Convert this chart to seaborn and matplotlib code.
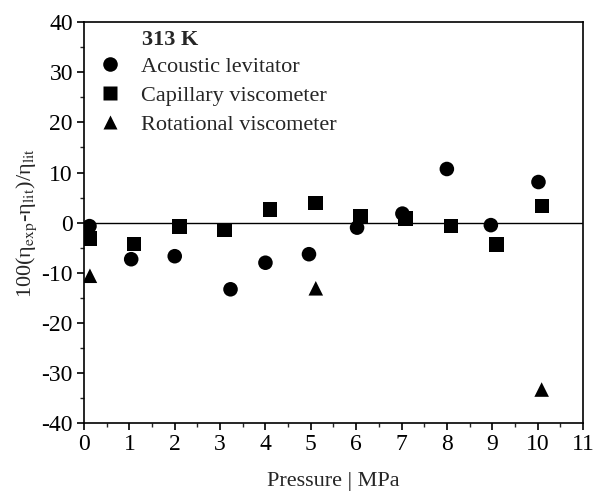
import matplotlib
matplotlib.use("Agg")
import matplotlib.pyplot as plt
from matplotlib.ticker import MultipleLocator
import pandas as pd
import seaborn as sns

acoustic_p = [0.12, 1.04, 2.0, 3.23, 4.0, 4.96, 6.02, 7.02, 8.0, 8.97, 10.02]
acoustic_dev = [-0.7, -7.3, -6.7, -13.3, -8.0, -6.3, -1.0, 1.8, 10.7, -0.5, 8.1]
capillary_p = [0.12, 1.10, 2.1, 3.1, 4.10, 5.10, 6.09, 7.09, 8.09, 9.09, 10.1]
capillary_dev = [-3.2, -4.3, -0.8, -1.5, 2.6, 3.95, 1.3, 0.8, -0.7, -4.4, 3.3]
rotational_p = [0.13, 5.11, 10.09]
rotational_dev = [-10.6, -13.1, -33.3]

labels = ["Acoustic levitator", "Capillary viscometer", "Rotational viscometer"]

df = pd.concat([
    pd.DataFrame({"p": acoustic_p, "dev": acoustic_dev, "method": labels[0]}),
    pd.DataFrame({"p": capillary_p, "dev": capillary_dev, "method": labels[1]}),
    pd.DataFrame({"p": rotational_p, "dev": rotational_dev, "method": labels[2]}),
])

sns.set_style("ticks")
plt.rcParams["font.family"] = ["Liberation Serif", "DejaVu Serif"]
plt.rcParams["mathtext.fontset"] = "stix"
plt.rcParams["axes.unicode_minus"] = False

fs = 16
fig = plt.figure(figsize=(5.93, 4.92), dpi=100)
ax = fig.add_axes([0.1417, 0.140, 0.8413, 0.815])

ax.axhline(0, color="black", lw=1.0, zorder=1)
sns.scatterplot(data=df, x="p", y="dev", style="method", hue="method",
                markers={labels[0]: "o", labels[1]: "s", labels[2]: "^"},
                palette={l: "black" for l in labels},
                s=110, edgecolor="none", ax=ax, zorder=3)

ax.set_xlim(0, 11)
ax.set_ylim(-40, 40)
ax.xaxis.set_major_locator(MultipleLocator(1))
ax.xaxis.set_minor_locator(MultipleLocator(0.5))
ax.yaxis.set_major_locator(MultipleLocator(10))
ax.yaxis.set_minor_locator(MultipleLocator(5))
ax.tick_params(which="major", direction="out", length=5, width=1.2, labelsize=fs + 1,
               colors="black", pad=3)
ax.tick_params(which="minor", direction="out", length=3, width=1.0)
ax.tick_params(top=False, right=False, which="both")
for sp in ax.spines.values():
    sp.set_linewidth(1.2)
    sp.set_color("black")

ax.set_xlabel("Pressure | MPa", fontsize=fs, labelpad=12)
ax.set_ylabel("100(η$_{\\rm exp}$-η$_{\\rm lit}$)/η$_{\\rm lit}$", fontsize=fs, labelpad=2)

ax.text(0.116, 0.98, "313 K", transform=ax.transAxes, fontsize=fs,
        fontweight="bold", va="top", ha="left")
ax.legend(loc="upper left", bbox_to_anchor=(0.030, 0.915), frameon=False,
          fontsize=fs, handlelength=1.0, handletextpad=0.9, labelspacing=0.38,
          borderpad=0, borderaxespad=0)

fig.savefig("out.png", dpi=100)
